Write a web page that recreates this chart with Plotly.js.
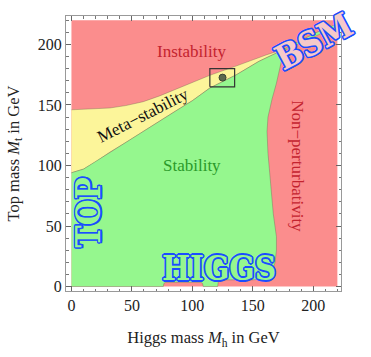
<!DOCTYPE html>
<html>
<head>
<meta charset="utf-8">
<script src="https://cdn.plot.ly/plotly-3.0.1.min.js"></script>
<style>
  html, body { margin: 0; padding: 0; background: #fff; }
  #plot { width: 371px; height: 357px; }
</style>
</head>
<body>
<div id="plot"></div>
<script>
// phase diagram: Higgs mass (x) vs top mass (y), GeV
var edge = 220;

// instability / meta-stability border
var upX = [0, 15, 31.8, 45, 59.4, 73, 86.9, 100, 114.5, 135, 150, 161, 175, 190, 205, 220];
var upY = [146, 146.5, 147.5, 149.5, 152.7, 157.5, 163, 168.5, 174.5, 181.7, 187, 191.3, 195.8, 203.5, 211, 217];

// meta-stability / stability border
var lowX = [0, 10, 20, 31.8, 45, 59, 72, 87, 100, 114.5, 136.5, 155, 175];
var lowY = [94, 97, 103, 111, 119, 128, 136, 145.5, 153.5, 164, 175, 186, 195.5];

// stability / non-perturbativity border, from top right down to the bottom
var npX = [220, 205, 190, 176, 173, 169.6, 166, 162.6, 161.8, 162.6, 164, 167, 169.6, 169.6, 168.5, 166, 162, 150, 124, 121.5, 121, 109, 108.5, 107, 78, 76.5, 76];
var npY = [215, 208.5, 201.5, 195, 183, 168, 155, 140, 128, 110, 90, 60, 41, 30, 20, 12, 6.5, 5.5, 5.5, 4, 0, 0, 2.5, 3.5, 3.5, 2.5, 0];

// measured point and its box
var ptX = [125];
var ptY = [172.6];
var boxX = [114.5, 135, 135, 114.5, 114.5];
var boxY = [165, 165, 180, 180, 165];

var red = '#fb8d8d', yellow = '#fcf59a', green = '#95f78e';
var border = 'rgba(90,90,70,0.55)';

// polygons built from the borders
var redX = [0, edge, edge, 0, 0], redY = [0, 0, edge, edge, 0];

var yelX = lowX.concat(upX.slice(0, 13).reverse());
var yelY = lowY.concat(upY.slice(0, 13).reverse());

var grX = [0].concat(npX.slice().reverse()).concat(upX.slice(12).reverse()).concat(lowX.slice().reverse());
var grY = [0].concat(npY.slice().reverse()).concat(upY.slice(12).reverse()).concat(lowY.slice().reverse());

var traces = [
  {x: redX, y: redY, fill: 'toself', fillcolor: red, mode: 'lines', line: {width: 0}, hoverinfo: 'skip'},
  {x: yelX, y: yelY, fill: 'toself', fillcolor: yellow, mode: 'lines', line: {width: 0.6, color: border}, hoverinfo: 'skip'},
  {x: grX, y: grY, fill: 'toself', fillcolor: green, mode: 'lines', line: {width: 0.6, color: border}, hoverinfo: 'skip'},
  {x: boxX, y: boxY, mode: 'lines', line: {width: 1.2, color: '#333'}, hoverinfo: 'skip'},
  {x: ptX, y: ptY, mode: 'markers', marker: {size: 7, color: '#5b6a4e', line: {width: 1, color: '#3a4533'}}}
];

var serif = 'Liberation Serif, Times New Roman, serif';
var slab = 'DejaVu Serif Condensed, DejaVu Serif, serif';
var blue = '#1b4dff';
var ring = '1.6px 0 0 ' + blue + ', -1.6px 0 0 ' + blue + ', 0 1.6px 0 ' + blue + ', 0 -1.6px 0 ' + blue +
  ', 1.2px 1.2px 0 ' + blue + ', -1.2px -1.2px 0 ' + blue + ', 1.2px -1.2px 0 ' + blue + ', -1.2px 1.2px 0 ' + blue;

function lab(txt, x, y, ang, col, size) {
  return {x: x, y: y, text: txt, showarrow: false, textangle: ang,
    font: {family: serif, size: size, color: col}};
}
function big(txt, x, y, ang, fill, size) {
  return {x: x, y: y, text: txt, showarrow: false, textangle: ang,
    font: {family: slab, size: size, color: fill, weight: 'bold', shadow: ring}};
}

var axis = {
  showgrid: false, zeroline: false,
  showline: true, linecolor: '#999', linewidth: 1, mirror: 'allticks',
  ticks: 'inside', ticklen: 5, tickcolor: '#666', tickwidth: 1,
  tick0: 0, dtick: 50,
  minor: {dtick: 10, ticks: 'inside', ticklen: 2.5, tickcolor: '#777'},
  tickfont: {family: serif, size: 16, color: '#222'}
};

var layout = {
  width: 371, height: 357,
  margin: {l: 66, r: 30, t: 16, b: 66},
  paper_bgcolor: '#fff', plot_bgcolor: '#fff',
  showlegend: false,
  xaxis: Object.assign({}, axis, {range: [-4.5, 223],
    title: {text: 'Higgs mass <i>M</i><sub>h</sub> in GeV', font: {family: serif, size: 16.5, color: '#222'}, standoff: 18}}),
  yaxis: Object.assign({}, axis, {range: [-3.7, 223.5],
    title: {text: 'Top mass <i>M</i><sub>t</sub> in GeV', font: {family: serif, size: 16.5, color: '#222'}, standoff: 14}}),
  annotations: [
    lab('Instability', 99.3, 194, 0, '#c4232f', 17),
    lab('Meta\u2212stability', 59.1, 141.5, -27, '#111', 17),
    lab('Stability', 99.6, 99.6, 0, '#2a9a2a', 17),
    lab('Non\u2212perturbativity', 187, 99, 90, '#c4232f', 17),
    big('BSM', 201, 202.5, -28, '#f6c9c9', 34),
    big('TOP', 14.9, 61.6, -90, green, 33),
    big('HIGGS', 122.3, 14.5, 0, green, 33)
  ]
};

Plotly.newPlot('plot', traces, layout, {displayModeBar: false, staticPlot: true});
</script>
</body>
</html>
